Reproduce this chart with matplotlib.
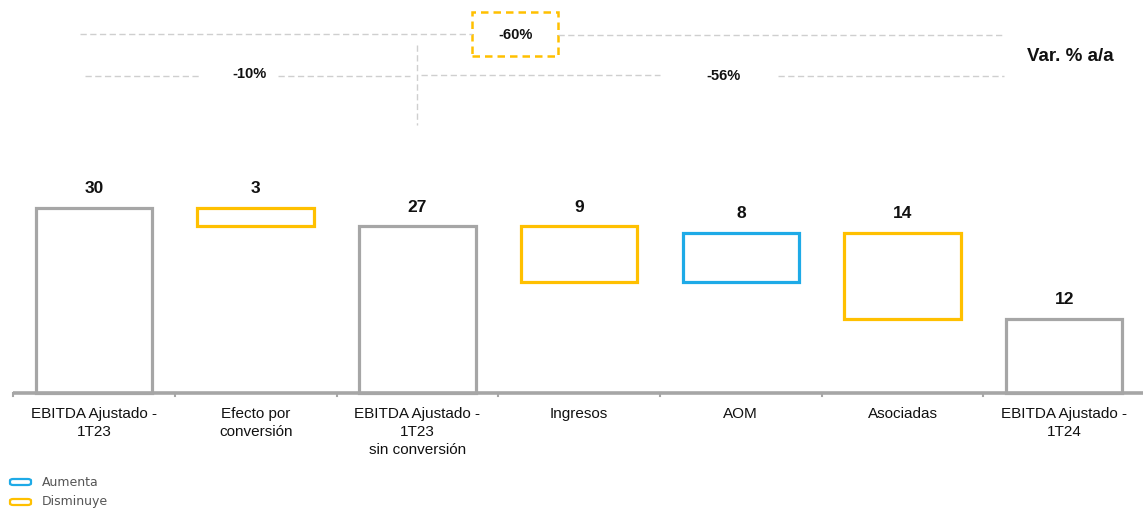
import matplotlib.pyplot as plt
from matplotlib.patches import Rectangle, FancyBboxPatch

plt.rcParams['font.family'] = ['Liberation Sans', 'DejaVu Sans']

# --- data ---
categories = ["EBITDA Ajustado -\n1T23", "Efecto por\nconversión",
              "EBITDA Ajustado -\n1T23\nsin conversión", "Ingresos", "AOM",
              "Asociadas", "EBITDA Ajustado -\n1T24"]
values = [30, -3, 27, -9, 8, -14, 12]
kinds = ["total", "change", "total", "change", "change", "change", "total"]
value_labels = ["30", "3", "27", "9", "8", "14", "12"]
var_labels = ["-60%", "-10%", "-56%"]

GRAY = "#A6A6A6"
YELLOW = "#FFC000"
BLUE = "#1EAAE7"

fig = plt.figure(figsize=(11.43, 5.15), dpi=100)
ax = fig.add_axes([0, 0, 1, 1])
ax.set_xlim(-0.581, 6.487)
ax.set_ylim(-19.77, 63.7)
ax.axis("off")

width = 0.72
running = 0
for i, (v, k) in enumerate(zip(values, kinds)):
    if k == "total":
        bottom, top = 0, v
        color = GRAY
        running = v
    else:
        start = running
        running = running + v
        bottom, top = min(start, running), max(start, running)
        color = BLUE if v > 0 else YELLOW
    ax.add_patch(Rectangle((i - width / 2, bottom), width, top - bottom,
                           fill=False, edgecolor=color, linewidth=2.3))
    ax.text(i, top + 1.9, value_labels[i], ha="center", va="bottom",
            fontsize=12.5, fontweight="bold", color="#111111")
    ax.text(i, -2.2, categories[i], ha="center", va="top", fontsize=11,
            color="#111111", linespacing=1.4)

# axis line with boundary ticks
ax.plot([-0.5, 6.6], [0, 0], color=GRAY, linewidth=2.6, solid_capstyle="butt")
for b in [x + 0.5 for x in range(-1, 7)]:
    ax.plot([b, b], [0, -0.5], color=GRAY, linewidth=1.5)

# variation annotations (y in data units)
y1, y2 = 58.2, 51.4
dash = dict(color="#CFCFCF", linewidth=1.0, linestyle=(0, (4.5, 2.5)))
ax.plot([-0.086, 2.34], [y1, y1], **dash)
ax.plot([2.87, 5.63], [y1 - 0.15, y1 - 0.15], **dash)
ax.add_patch(Rectangle((2.34, 54.6), 0.53, 7.1, fill=False, edgecolor=YELLOW,
                       linewidth=1.8, linestyle=(0, (3, 2))))
ax.text(2.605, y1 - 0.2, var_labels[0], ha="center", va="center",
        fontsize=10.5, fontweight="bold", color="#111111")

ax.plot([-0.055, 0.655], [y2, y2], **dash)
ax.text(0.96, y2 + 0.3, var_labels[1], ha="center", va="center",
        fontsize=10.5, fontweight="bold", color="#111111")
ax.plot([1.14, 1.955], [y2, y2], **dash)
ax.plot([1.999, 1.999], [56.4, 43.5], **dash)
ax.plot([2.02, 3.5], [y2 + 0.1, y2 + 0.1], **dash)
ax.text(3.89, y2, var_labels[2], ha="center", va="center",
        fontsize=10.5, fontweight="bold", color="#111111")
ax.plot([4.23, 5.63], [y2, y2], **dash)
ax.text(6.04, 54.6, "Var. % a/a", ha="center", va="center",
        fontsize=13.5, fontweight="bold", color="#111111")

# legend
for yy, col, lab in [(482, BLUE, "Aumenta"), (502, YELLOW, "Disminuye")]:
    fig.patches.append(FancyBboxPatch((10 / 1143, 1 - (yy + 3) / 515), 21 / 1143, 6 / 515,
                                      boxstyle="round,pad=0,rounding_size=0.003",
                                      transform=fig.transFigure, fill=False,
                                      edgecolor=col, linewidth=1.6))
    fig.text(42 / 1143, 1 - yy / 515, lab, ha="left", va="center", fontsize=9,
             color="#555555", family=["Liberation Sans Narrow", "DejaVu Sans"])

fig.savefig("out.png", dpi=100)
